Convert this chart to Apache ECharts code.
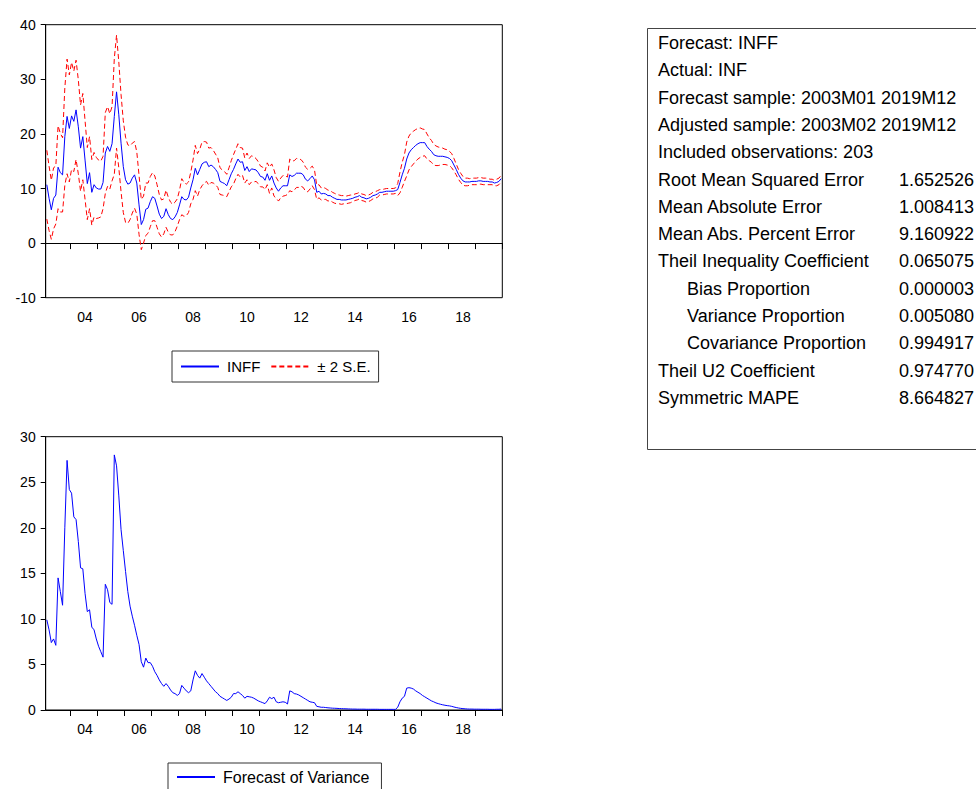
<!DOCTYPE html>
<html><head><meta charset="utf-8">
<script src="https://cdn.jsdelivr.net/npm/echarts@6/dist/echarts.min.js"></script>
<style>html,body{margin:0;padding:0;background:#fff}#c{width:976px;height:789px}</style>
</head><body><div id="c"></div>
<script>
// Forecast INFF, monthly 2003M02 .. 2019M12 (203 obs)
const inff = [
10.7,8.2,6.1,8.2,8.8,13.9,12.9,12.5,19.5,23.2,21.0,
23.3,22.3,24.4,21.3,17.4,19.5,15.2,10.9,12.9,9.3,10.7,10.1,
9.9,9.9,11.1,16.5,17.7,16.8,18.2,23.2,27.7,23.5,18.3,14.0,
11.6,10.8,11.0,11.9,12.5,11.0,7.0,3.4,4.3,6.2,6.4,7.6,
8.5,8.2,6.8,5.3,4.5,4.9,6.3,5.2,4.5,4.3,4.8,5.6,
7.0,8.5,8.0,7.9,8.4,10.1,11.6,13.7,12.5,13.5,14.5,14.8,
14.9,14.0,14.3,14.0,13.5,12.9,11.3,11.1,10.9,10.5,11.6,12.7,
13.5,14.5,15.4,14.8,14.9,13.3,14.0,13.1,13.6,13.5,13.4,12.9,
12.2,12.1,11.5,12.7,11.5,12.3,11.0,10.1,9.5,10.1,10.5,10.5,
10.5,12.5,12.2,12.4,12.8,12.8,12.8,12.5,11.7,11.4,11.8,12.3,
11.6,9.3,9.5,9.0,9.1,9.0,8.7,8.7,8.4,8.2,8.0,8.0,
7.9,7.9,7.9,8.0,8.1,8.2,8.4,8.5,8.7,8.4,8.3,8.1,
8.2,8.4,8.7,8.8,9.0,9.3,9.3,9.4,9.5,9.5,9.5,9.5,
9.6,9.8,11.1,12.5,13.7,15.4,16.5,17.1,17.5,17.9,18.2,18.4,
18.4,18.4,17.7,17.2,16.8,16.2,16.0,15.9,15.9,15.9,15.8,15.7,
15.5,15.1,14.3,13.5,12.6,11.9,11.4,11.2,11.2,11.2,11.3,11.3,
11.3,11.4,11.4,11.3,11.3,11.3,11.2,11.2,11.0,11.1,11.3,11.8];
// + 2 S.E. band
const upperSE = [
17.0,14.1,11.5,13.8,14.1,21.5,20.1,19.3,28.4,33.7,30.8,
33.1,31.5,33.5,29.9,25.3,27.4,22.4,17.5,19.5,15.3,16.6,15.7,
15.2,15.0,15.9,23.9,25.0,23.7,25.0,33.8,38.1,33.2,27.2,22.4,
19.4,18.0,17.8,18.3,18.6,16.7,12.4,8.0,8.6,11.0,11.0,12.2,
12.9,12.3,10.7,8.9,7.9,8.1,9.7,8.4,7.5,7.1,7.5,8.1,
9.7,11.8,11.1,10.8,11.2,13.0,15.2,17.9,16.4,17.2,18.5,18.6,
18.5,17.4,17.5,17.0,16.3,15.6,13.8,13.4,13.1,12.6,13.8,15.1,
16.2,17.2,18.2,17.5,17.4,15.6,16.5,15.5,16.0,15.8,15.5,14.9,
14.1,13.9,13.2,14.7,13.9,14.5,13.4,12.0,11.3,11.9,12.4,12.3,
12.1,15.4,15.0,15.1,15.5,15.4,15.3,14.8,13.9,13.5,13.7,14.1,
13.4,10.6,10.7,10.1,10.2,10.0,9.7,9.6,9.3,9.1,8.9,8.8,
8.7,8.7,8.6,8.7,8.8,8.8,9.0,9.1,9.3,9.0,8.9,8.7,
8.8,9.0,9.3,9.4,9.6,9.8,9.8,9.9,10.0,10.0,10.0,10.0,
10.1,10.9,13.0,14.8,16.2,18.5,19.6,20.2,20.5,20.8,21.0,21.1,
20.9,20.8,20.0,19.3,18.8,18.1,17.8,17.6,17.5,17.4,17.2,17.1,
16.8,16.4,15.5,14.5,13.5,12.8,12.2,11.9,11.9,11.8,11.9,11.9,
11.9,12.0,12.0,11.9,11.9,11.9,11.7,11.7,11.5,11.7,11.9,12.4];
// - 2 S.E. band
const lowerSE = [
4.4,2.3,0.7,2.6,3.5,6.3,5.7,5.7,10.6,12.7,11.2,
13.5,13.1,15.3,12.7,9.5,11.6,8.0,4.3,6.3,3.3,4.8,4.5,
4.6,4.8,6.3,9.1,10.4,9.9,11.4,12.6,17.4,13.8,9.4,5.6,
3.8,3.6,4.3,5.5,6.4,5.3,1.6,-1.2,0.0,1.4,1.8,3.0,
4.1,4.1,2.9,1.7,1.1,1.7,2.9,2.0,1.5,1.5,2.1,3.1,
4.3,5.2,4.9,5.0,5.6,7.2,8.0,9.6,8.6,9.8,10.5,11.0,
11.3,10.6,11.1,11.0,10.7,10.2,8.9,8.8,8.7,8.5,9.4,10.3,
10.8,11.8,12.6,12.1,12.4,11.0,11.6,10.7,11.2,11.2,11.3,10.9,
10.3,10.3,9.8,10.7,9.1,10.1,8.6,8.2,7.7,8.3,8.6,8.7,
8.9,9.6,9.4,9.7,10.2,10.2,10.4,10.2,9.5,9.4,9.9,10.5,
9.8,8.0,8.3,7.9,8.0,8.0,7.7,7.8,7.5,7.3,7.2,7.2,
7.1,7.2,7.2,7.3,7.4,7.6,7.8,7.9,8.1,7.8,7.7,7.5,
7.6,7.8,8.1,8.2,8.4,8.8,8.8,8.9,9.0,9.0,9.0,9.0,
9.1,8.7,9.2,10.2,11.3,12.3,13.4,14.0,14.5,15.0,15.4,15.7,
15.9,16.0,15.4,15.1,14.8,14.3,14.2,14.2,14.3,14.4,14.4,14.3,
14.2,13.8,13.2,12.5,11.7,11.1,10.6,10.5,10.5,10.6,10.7,10.7,
10.7,10.8,10.8,10.7,10.7,10.7,10.7,10.7,10.5,10.5,10.7,11.2];
// Forecast of variance
const forecastVariance = [
9.9,8.8,7.4,7.8,7.1,14.5,13.0,11.5,20.0,27.4,24.2,
23.8,21.2,20.9,18.5,15.6,15.5,12.8,10.8,11.0,9.1,8.8,7.8,
7.0,6.4,5.8,13.8,13.2,11.8,11.6,28.0,26.8,23.5,19.8,17.5,
15.2,13.0,11.4,10.3,9.3,8.2,7.2,5.3,4.7,5.7,5.2,5.2,
4.8,4.2,3.8,3.3,2.9,2.6,2.9,2.6,2.2,1.9,1.8,1.6,
1.8,2.7,2.4,2.1,1.9,2.1,3.3,4.3,3.8,3.5,4.0,3.6,
3.2,2.9,2.6,2.3,2.0,1.8,1.5,1.35,1.2,1.05,1.2,1.4,
1.8,1.8,2.0,1.8,1.6,1.3,1.5,1.45,1.4,1.3,1.15,1.0,
0.9,0.8,0.7,1.0,1.4,1.25,1.4,0.9,0.8,0.85,0.9,0.85,
0.66,2.1,2.0,1.8,1.75,1.65,1.5,1.35,1.2,1.05,0.9,0.85,
0.8,0.4,0.35,0.3,0.3,0.27,0.24,0.22,0.2,0.19,0.18,0.16,
0.15,0.14,0.13,0.12,0.11,0.10,0.10,0.09,0.09,0.09,0.09,0.08,
0.08,0.08,0.08,0.08,0.08,0.07,0.07,0.07,0.07,0.07,0.07,0.07,
0.07,0.3,0.9,1.3,1.5,2.4,2.45,2.4,2.3,2.1,1.95,1.8,
1.6,1.45,1.3,1.15,1.0,0.9,0.78,0.7,0.63,0.57,0.52,0.48,
0.45,0.4,0.33,0.27,0.22,0.18,0.15,0.13,0.11,0.1,0.1,0.09,
0.09,0.09,0.08,0.08,0.08,0.08,0.07,0.07,0.07,0.08,0.08,0.1];

const statLabels = ["Forecast: INFF","Actual: INF","Forecast sample: 2003M01 2019M12",
"Adjusted sample: 2003M02 2019M12","Included observations: 203",
"Root Mean Squared Error","Mean Absolute Error","Mean Abs. Percent Error",
"Theil Inequality Coefficient","Bias Proportion","Variance Proportion",
"Covariance Proportion","Theil U2 Coefficient","Symmetric MAPE"];
const statValues = ["","","","","","1.652526","1.008413","9.160922","0.065075",
"0.000003","0.005080","0.994917","0.974770","8.664827"];
const statIndent = [0,0,0,0,0,0,0,0,0,1,1,1,0,0];

// month categories 2003M02 .. 2019M12
const months = [];
for (let y = 2003; y <= 2019; y++) for (let m = 1; m <= 12; m++) {
  if (y === 2003 && m === 1) continue;
  months.push(y + 'M' + String(m).padStart(2, '0'));
}

const FONT = '"Liberation Sans", Arial, sans-serif';

function xAxis(gi) {
  return {
    type: 'category', gridIndex: gi, data: months, boundaryGap: true,
    axisLine: {show: true, lineStyle: {color: '#000', width: 1}},
    axisTick: {show: true, length: 6, interval: (i) => months[i].endsWith('M01'),
      lineStyle: {color: '#000', width: 1}},
    axisLabel: {interval: (i, v) => v.endsWith('M07') && (+v.slice(0, 4)) % 2 === 0,
      formatter: (v) => v.slice(2, 4), color: '#000', fontSize: 14, fontFamily: FONT, margin: 12},
    splitLine: {show: false}
  };
}
function yAxis(gi, min, max, step) {
  return {
    type: 'value', gridIndex: gi, min: min, max: max, interval: step,
    axisLine: {show: true, lineStyle: {color: '#000', width: 1}},
    axisTick: {show: true, length: 5, lineStyle: {color: '#000', width: 1}},
    axisLabel: {color: '#000', fontSize: 14, fontFamily: FONT, margin: 10, padding: [0, 0, 5, 0]},
    splitLine: {show: false}
  };
}

const graphic = [{type: 'rect', shape: {x: 647.5, y: 28.5, width: 340, height: 421},
  style: {fill: 'none', stroke: '#444', lineWidth: 1}}];
statLabels.forEach((t, k) => {
  const y = 43 + 27.3 * k;
  graphic.push({type: 'text', x: statIndent[k] ? 687 : 658, y: y,
    style: {text: t, fill: '#000', font: '18px ' + FONT, verticalAlign: 'middle', align: 'left'}});
  if (statValues[k]) graphic.push({type: 'text', x: 899, y: y,
    style: {text: statValues[k], fill: '#000', font: '18px ' + FONT, verticalAlign: 'middle', align: 'left'}});
});

const legendCommon = {
  orient: 'horizontal', itemWidth: 38, itemHeight: 12, itemGap: 10,
  borderColor: '#333', borderWidth: 1,
  itemStyle: {opacity: 0},
  textStyle: {color: '#000', fontSize: 15, fontFamily: FONT, padding: [0, 0, 0, 3]}
};

const chart = echarts.init(document.getElementById('c'), null, {renderer: 'svg'});
chart.setOption({
  animation: false,
  backgroundColor: '#fff',
  grid: [
    {left: 45.7, top: 24.7, width: 456.6, height: 273, show: true, borderColor: '#000', borderWidth: 1, backgroundColor: 'transparent'},
    {left: 45.7, top: 436.7, width: 456.6, height: 273.3, show: true, borderColor: '#000', borderWidth: 1, backgroundColor: 'transparent'}
  ],
  xAxis: [xAxis(0), xAxis(1)],
  yAxis: [yAxis(0, -10, 40, 10), yAxis(1, 0, 30, 5)],
  legend: [
    Object.assign({}, legendCommon, {data: ['INFF', '± 2 S.E.'], left: 172, top: 351, padding: [8, 8, 8, 8]}),
    Object.assign({}, legendCommon, {data: ['Forecast of Variance'], left: 168, top: 763, padding: [6, 12, 8, 8],
      textStyle: {color: '#000', fontSize: 16, fontFamily: FONT, padding: [0, 0, 0, 3]}})
  ],
  series: [
    {name: 'INFF', type: 'line', xAxisIndex: 0, yAxisIndex: 0, data: inff, symbol: 'none',
      lineStyle: {color: '#0000ff', width: 1}, itemStyle: {color: '#0000ff'}, z: 3},
    {name: '± 2 S.E.', type: 'line', xAxisIndex: 0, yAxisIndex: 0, data: upperSE, symbol: 'none',
      lineStyle: {color: '#ff0000', width: 1, type: [5, 3]}, itemStyle: {color: '#ff0000'}},
    {name: '± 2 S.E.', type: 'line', xAxisIndex: 0, yAxisIndex: 0, data: lowerSE, symbol: 'none',
      lineStyle: {color: '#ff0000', width: 1, type: [5, 3]}, itemStyle: {color: '#ff0000'}},
    {name: 'Forecast of Variance', type: 'line', xAxisIndex: 1, yAxisIndex: 1, data: forecastVariance, symbol: 'none',
      lineStyle: {color: '#0000ff', width: 1}, itemStyle: {color: '#0000ff'}}
  ],
  graphic: graphic
});
</script>
</body></html>
